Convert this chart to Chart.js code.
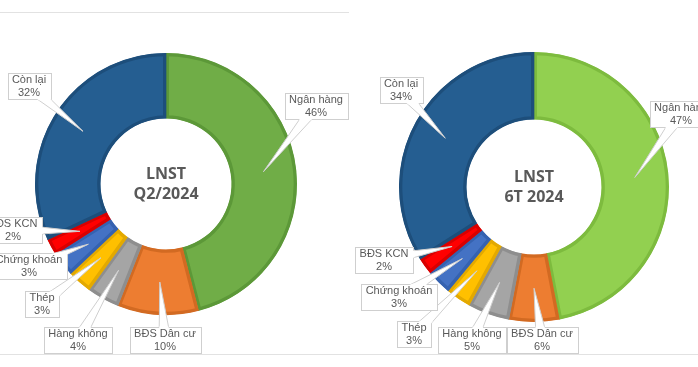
<!DOCTYPE html>
<html>
<head>
<meta charset="utf-8">
<script src="https://cdn.jsdelivr.net/npm/chart.js@4.4.1/dist/chart.umd.min.js"></script>
<style>
  html, body { margin: 0; padding: 0; background: #fff; }
  #khung { position: relative; width: 698px; height: 367px; overflow: hidden; }
  .o { position: absolute; top: 0; }
  #vachTren { position: absolute; left: 0; top: 12px; width: 349px; height: 1px; background: #e2e2e2; }
  #vachDuoi { position: absolute; left: 0; top: 354px; width: 698px; height: 1px; background: #e2e2e2; }
</style>
</head>
<body>
<div id="khung">
  <div id="vachTren"></div>
  <div id="vachDuoi"></div>
  <canvas id="bieuDoQ2" class="o" width="349" height="367" style="left:0"></canvas>
  <canvas id="bieuDo6T" class="o" width="349" height="367" style="left:349px"></canvas>
</div>
<script>
// Dữ liệu: cơ cấu LNST theo ngành (%)
const nganh = ["Ngân hàng", "BĐS Dân cư", "Hàng không", "Thép", "Chứng khoán", "BĐS KCN", "Còn lại"];
const tyTrongQ2 = [46, 10, 4, 3, 3, 2, 32];
const tyTrong6T = [47, 6, 5, 3, 3, 2, 34];
const tieuDeQ2 = ["LNST", "Q2/2024"];
const tieuDe6T = ["LNST", "6T 2024"];

// Màu (nền / viền) cho từng lát
const mauQ2 = ["#70AD47", "#ED7D31", "#A5A5A5", "#FFC000", "#4472C4", "#FF0000", "#255E91"];
const mau6T = ["#92D050", "#ED7D31", "#A5A5A5", "#FFC000", "#4472C4", "#FF0000", "#255E91"];
const vienQ2 = ["#5C9838", "#D26A22", "#8E8E8E", "#E3A900", "#3562B0", "#D80000", "#1D4E7B"];
const vien6T = ["#7DBB3E", "#D26A22", "#8E8E8E", "#E3A900", "#3562B0", "#D80000", "#1D4E7B"];

// Vị trí hộp nhãn so với tâm biểu đồ (px)
const viTriQ2 = [[150, -78], [-1, 156], [-88, 156], [-124, 120], [-137, 82], [-153, 46], [-137, -98]];
const viTri6T = [[147, -73], [8, 153], [-62, 153], [-120, 147], [-135, 110], [-150, 73], [-133, -97]];

// Plugin vẽ nhãn dạng callout + chữ ở giữa
const nhanPlugin = {
  id: "nhanCallout",
  afterDatasetsDraw(chart, args, opts) {
    const ctx = chart.ctx;
    const meta = chart.getDatasetMeta(0);
    const data = chart.data.datasets[0].data;
    let cx = 0, cy = 0;
    ctx.save();
    ctx.font = "11px 'Liberation Sans', Arial, sans-serif";
    ctx.textAlign = "center";
    ctx.textBaseline = "middle";
    meta.data.forEach((arc, i) => {
      const p = arc.getProps(["x", "y", "startAngle", "endAngle", "innerRadius", "outerRadius"], true);
      cx = p.x; cy = p.y;
      const giua = (p.startAngle + p.endAngle) / 2;
      const rGiua = (p.innerRadius + p.outerRadius) / 2;
      const tx = p.x + Math.cos(giua) * rGiua;
      const ty = p.y + Math.sin(giua) * rGiua;
      const bx = p.x + opts.viTri[i][0];
      const by = p.y + opts.viTri[i][1];
      const dong1 = chart.data.labels[i];
      const dong2 = data[i] + "%";
      const w = Math.round(Math.max(ctx.measureText(dong1).width, ctx.measureText(dong2).width) + 9);
      const h = 26;
      const x0 = Math.round(bx - w / 2) + 0.5;
      const y0 = Math.round(by - h / 2) + 0.5;

      const goc = Math.atan2(ty - by, tx - bx);
      const nx = -Math.sin(goc), ny = Math.cos(goc);
      const nua = 6;
      const nem = () => {
        ctx.beginPath();
        ctx.moveTo(bx + nx * nua, by + ny * nua);
        ctx.lineTo(tx, ty);
        ctx.lineTo(bx - nx * nua, by - ny * nua);
        ctx.closePath();
      };
      ctx.lineWidth = 1;
      ctx.strokeStyle = "#cfcfcf";
      ctx.fillStyle = "#ffffff";
      nem(); ctx.fill(); ctx.stroke();
      ctx.fillRect(x0, y0, w, h);
      ctx.strokeRect(x0, y0, w, h);
      // nối phần nêm vào hộp
      ctx.save();
      ctx.beginPath();
      ctx.rect(x0 - 1, y0 - 1, w + 2, h + 2);
      ctx.clip();
      nem(); ctx.fill();
      ctx.restore();

      ctx.fillStyle = "#595959";
      ctx.fillText(dong1, bx, by - 6);
      ctx.fillText(dong2, bx, by + 7);
    });
    ctx.font = "bold 16px 'Open Sans', 'DejaVu Sans', sans-serif";
    ctx.fillStyle = "#595959";
    ctx.fillText(opts.tieuDe[0], cx, cy - 10);
    ctx.fillText(opts.tieuDe[1], cx, cy + 10);
    ctx.restore();
  }
};

function veBieuDo(id, giaTri, mauNen, mauVien, viTri, tieuDe, dem) {
  return new Chart(document.getElementById(id), {
    type: "doughnut",
    data: {
      labels: nganh,
      datasets: [{
        data: giaTri,
        backgroundColor: mauNen,
        borderColor: mauVien,
        borderWidth: 3,
        borderAlign: "inner",
        hoverOffset: 0,
        offset: 0
      }]
    },
    options: {
      responsive: false,
      animation: false,
      events: [],
      cutout: "50%",
      layout: { padding: dem },
      plugins: {
        legend: { display: false },
        tooltip: { enabled: false },
        nhanCallout: { viTri: viTri, tieuDe: tieuDe }
      }
    },
    plugins: [nhanPlugin]
  });
}

veBieuDo("bieuDoQ2", tyTrongQ2, mauQ2, vienQ2, viTriQ2, tieuDeQ2, { left: 35, right: 52, top: 53, bottom: 52 });
veBieuDo("bieuDo6T", tyTrong6T, mau6T, vien6T, viTri6T, tieuDe6T, { left: 50, right: 29, top: 52, bottom: 45 });
</script>
</body>
</html>
